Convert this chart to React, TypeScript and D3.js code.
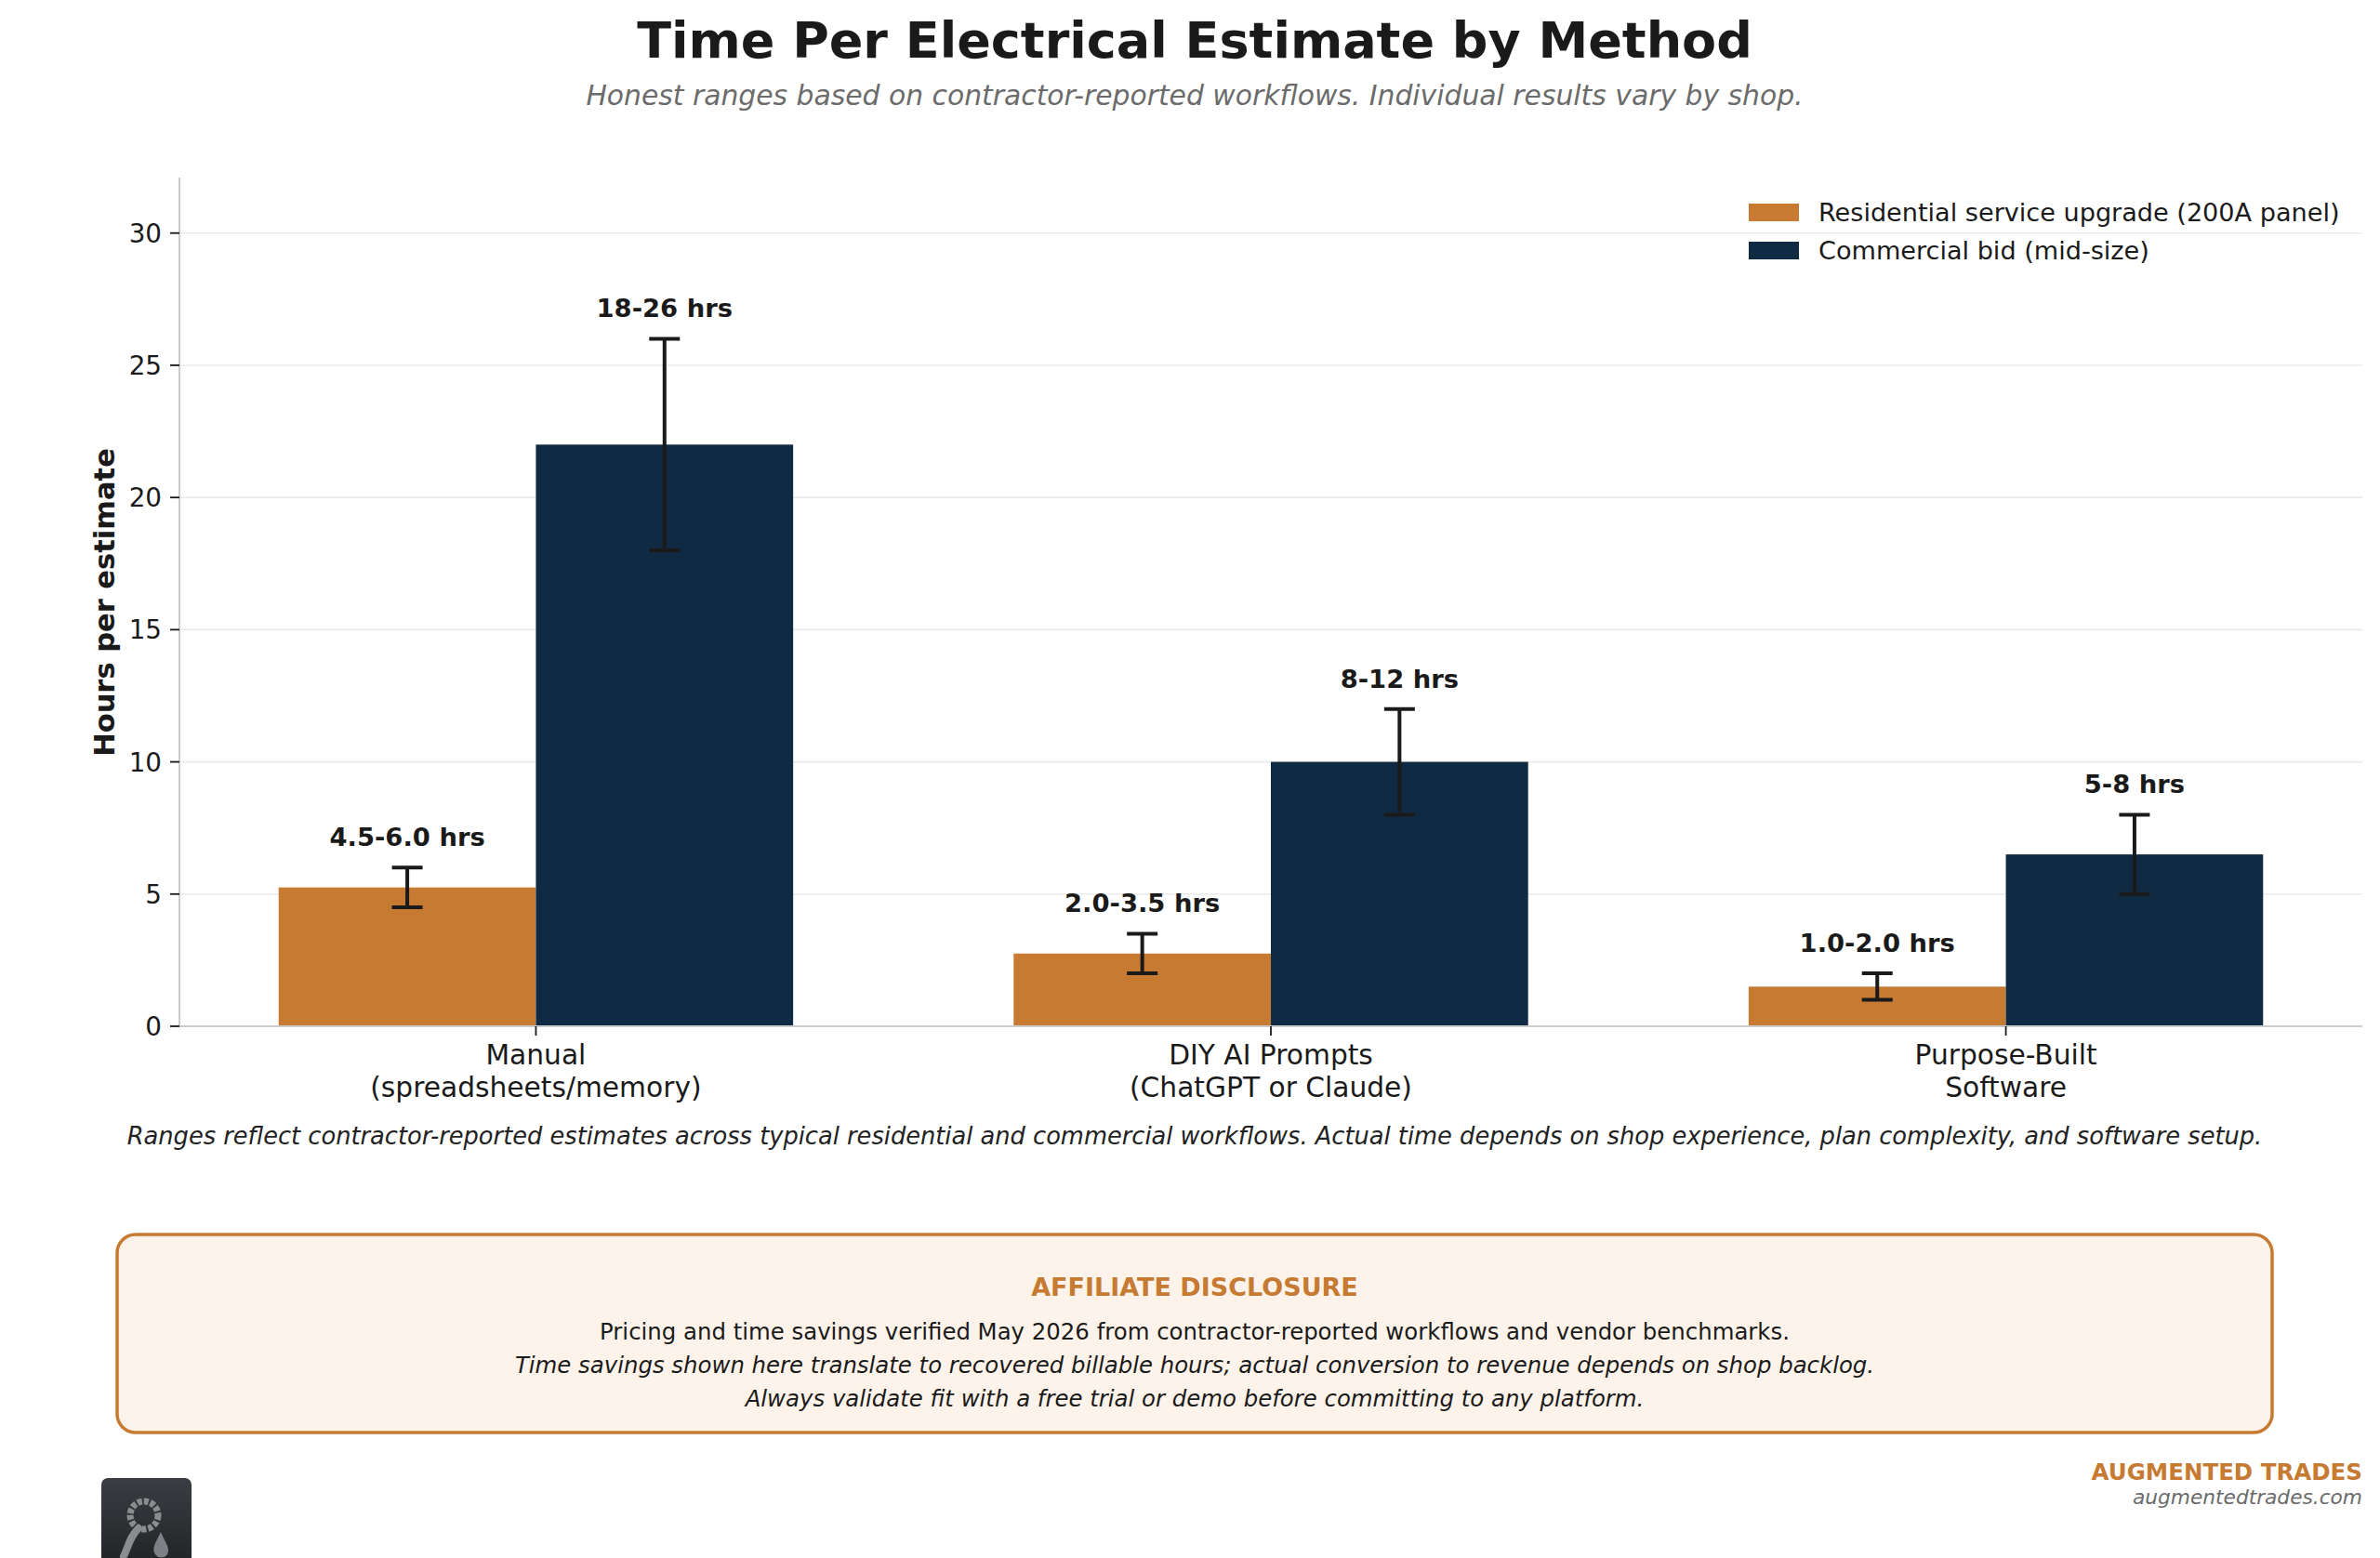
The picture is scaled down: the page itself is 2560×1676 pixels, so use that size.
import { scaleLinear, range } from 'd3'

const categories = [
  ['Manual', '(spreadsheets/memory)'],
  ['DIY AI Prompts', '(ChatGPT or Claude)'],
  ['Purpose-Built', 'Software'],
]
const seriesNames = ['Residential service upgrade (200A panel)', 'Commercial bid (mid-size)']
const seriesColors = ['#C67A32', '#112A44']

// low / high end of each range; bar height is the midpoint
const residentialLow = [4.5, 2.0, 1.0]
const residentialHigh = [6.0, 3.5, 2.0]
const commercialLow = [18, 8, 5]
const commercialHigh = [26, 12, 8]
const residentialLabels = ['4.5-6.0 hrs', '2.0-3.5 hrs', '1.0-2.0 hrs']
const commercialLabels = ['18-26 hrs', '8-12 hrs', '5-8 hrs']
const yTicks = [0, 5, 10, 15, 20, 25, 30]

const W = 2560
const H = 1676
const font = '"DejaVu Sans", sans-serif'
const ink = '#1a1a1a'
const cx = 1285

const App = () => {
  const barW = 0.35
  const xScale = scaleLinear().domain([-0.485, 2.485]).range([193, 2541])
  const yScale = scaleLinear().domain([0, 32.1]).range([1104, 191])

  const series = [
    { low: residentialLow, high: residentialHigh, labels: residentialLabels, offset: -barW / 2 },
    { low: commercialLow, high: commercialHigh, labels: commercialLabels, offset: barW / 2 },
  ]

  const gridLines = yTicks.filter(t => t > 0).map(t => (
    <line key={t} x1={xScale(-0.485)} x2={xScale(2.485)} y1={yScale(t)} y2={yScale(t)} stroke="#ebebeb" strokeWidth={1.6} />
  ))

  const bars = series.map((s, si) =>
    range(categories.length).map(i => {
      const mid = (s.low[i] + s.high[i]) / 2
      const left = xScale(i + s.offset - barW / 2)
      const right = xScale(i + s.offset + barW / 2)
      const center = xScale(i + s.offset)
      return (
        <g key={`${si}-${i}`}>
          <rect x={left} y={yScale(mid)} width={right - left} height={yScale(0) - yScale(mid)} fill={seriesColors[si]} />
          <line x1={center} x2={center} y1={yScale(s.low[i])} y2={yScale(s.high[i])} stroke={ink} strokeWidth={4} />
          <line x1={center - 16.5} x2={center + 16.5} y1={yScale(s.low[i])} y2={yScale(s.low[i])} stroke={ink} strokeWidth={4} />
          <line x1={center - 16.5} x2={center + 16.5} y1={yScale(s.high[i])} y2={yScale(s.high[i])} stroke={ink} strokeWidth={4} />
          <text x={center} y={yScale(s.high[i]) - 23} textAnchor="middle" fontFamily={font} fontWeight="bold" fontSize={27.4} fill={ink}>
            {s.labels[i]}
          </text>
        </g>
      )
    })
  )

  const yAxis = yTicks.map(t => (
    <g key={t}>
      <line x1={193} x2={183} y1={yScale(t)} y2={yScale(t)} stroke={ink} strokeWidth={1.8} />
      <text x={174} y={yScale(t) + 10} textAnchor="end" fontFamily={font} fontSize={27.8} fill={ink}>{t}</text>
    </g>
  ))

  const xAxis = categories.map((c, i) => (
    <g key={i}>
      <line x1={xScale(i)} x2={xScale(i)} y1={1104} y2={1114} stroke={ink} strokeWidth={1.8} />
      <text x={xScale(i)} y={1145} textAnchor="middle" fontFamily={font} fontSize={29.7} fill={ink}>{c[0]}</text>
      <text x={xScale(i)} y={1180} textAnchor="middle" fontFamily={font} fontSize={29.7} fill={ink}>{c[1]}</text>
    </g>
  ))

  const legend = seriesNames.map((n, i) => (
    <g key={n} transform={`translate(1881, ${219 + i * 41})`}>
      <rect x={0} y={0} width={54} height={19} fill={seriesColors[i]} />
      <text x={75} y={19} fontFamily={font} fontSize={27.1} fill={ink}>{n}</text>
    </g>
  ))

  return (
    <div style={{ position: 'absolute', left: 0, top: 0 }}>
      <svg width={W} height={H} viewBox={`0 0 ${W} ${H}`} style={{ display: 'block', background: '#fff' }}>
        <defs>
          <linearGradient id="logoBg" x1="0" y1="0" x2="0" y2="1">
            <stop offset="0" stopColor="#3a3e42" />
            <stop offset="1" stopColor="#1c1f22" />
          </linearGradient>
        </defs>
        <rect width={W} height={H} fill="#fff" />

        <text x={cx} y={62} textAnchor="middle" fontFamily={font} fontWeight="bold" fontSize={54} fill={ink}>
          Time Per Electrical Estimate by Method
        </text>
        <text x={cx} y={113} textAnchor="middle" fontFamily={font} fontStyle="italic" fontSize={29.8} fill="#6b6b6b">
          Honest ranges based on contractor-reported workflows. Individual results vary by shop.
        </text>

        {gridLines}
        {bars}
        <line x1={193} x2={193} y1={191} y2={1104} stroke="#cccccc" strokeWidth={2} />
        <line x1={193} x2={2541} y1={1104} y2={1104} stroke="#cccccc" strokeWidth={2} />
        {yAxis}
        {xAxis}
        {legend}

        <text transform="translate(123, 648) rotate(-90)" textAnchor="middle" fontFamily={font} fontWeight="bold" fontSize={30.5} fill={ink}>
          Hours per estimate
        </text>

        <text x={cx} y={1231} textAnchor="middle" fontFamily={font} fontStyle="italic" fontSize={25.7} fill="#222">
          Ranges reflect contractor-reported estimates across typical residential and commercial workflows. Actual time depends on shop experience, plan complexity, and software setup.
        </text>

        <rect x={126} y={1328} width={2318} height={213} rx={20} fill="#fdf3ea" stroke="#C67A32" strokeWidth={3.5} />
        <text x={cx} y={1394} textAnchor="middle" fontFamily={font} fontWeight="bold" fontSize={27} fill="#C67A32">
          AFFILIATE DISCLOSURE
        </text>
        <text x={cx} y={1441} textAnchor="middle" fontFamily={font} fontSize={24.4} fill={ink}>
          Pricing and time savings verified May 2026 from contractor-reported workflows and vendor benchmarks.
        </text>
        <text x={cx} y={1477} textAnchor="middle" fontFamily={font} fontStyle="italic" fontSize={24.4} fill={ink}>
          Time savings shown here translate to recovered billable hours; actual conversion to revenue depends on shop backlog.
        </text>
        <text x={cx} y={1513} textAnchor="middle" fontFamily={font} fontStyle="italic" fontSize={24.4} fill={ink}>
          Always validate fit with a free trial or demo before committing to any platform.
        </text>

        <text x={2541} y={1592} textAnchor="end" fontFamily={font} fontWeight="bold" fontSize={24.5} fill="#C67A32">
          AUGMENTED TRADES
        </text>
        <text x={2541} y={1618} textAnchor="end" fontFamily={font} fontStyle="italic" fontSize={21.7} fill="#6b6b6b">
          augmentedtrades.com
        </text>

        <g transform="translate(109, 1590)">
          <rect x={0} y={0} width={97} height={110} rx={7} fill="url(#logoBg)" />
          <circle cx={46} cy={40} r={15} fill="none" stroke="#8a8d90" strokeWidth={7} strokeDasharray="5 2" />
          <path d="M40 54 C 30 64, 30 72, 24 84" fill="none" stroke="#8a8d90" strokeWidth={8} strokeLinecap="round" />
          <path d="M64 58 C 58 70, 54 76, 58 82 C 62 88, 72 86, 72 78 C 72 72, 68 68, 64 58 Z" fill="#7d8084" />
        </g>
      </svg>
    </div>
  )
}

export default App
